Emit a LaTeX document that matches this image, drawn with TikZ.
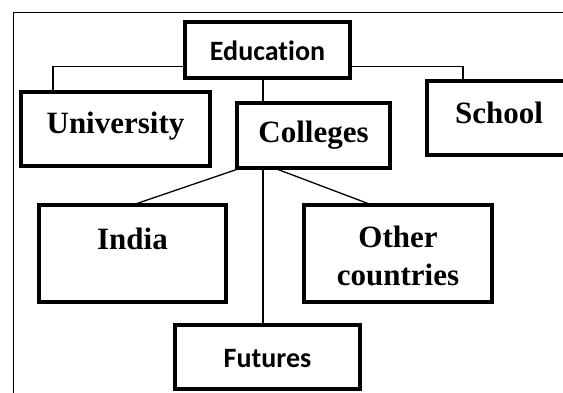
\documentclass[tikz,border=0pt]{standalone}
\usepackage{fontspec}
\setmainfont{Liberation Serif}
\newfontfamily\calfont[Ligatures=NoCommon]{Carlito}
\usepackage{tikz}
\usetikzlibrary{calc}

\tikzset{
  box/.style={draw, line width=4pt, inner sep=0pt, outer sep=0pt, align=center, anchor=north west},
  serif/.style={font=\bfseries\fontsize{31}{38}\selectfont},
  sans/.style={font=\calfont\bfseries\fontsize{28}{34}\selectfont},
  link/.style={line width=1.3pt}
}

\begin{document}
\begin{tikzpicture}[x=1pt,y=-1pt]
\useasboundingbox (0,0) rectangle (563,392);
\fill[white] (0,0) rectangle (563,392);
\draw[line width=0.9pt] (13,12) rectangle (640,460);

\node[box,sans,text width=165pt,text height=38.5pt,text depth=18pt] (edu) at (185,21.5) {Education};

\node[box,serif,text width=189pt,text height=41pt,text depth=33pt] (uni) at (21,92) {University};
\node[box,serif,text width=153pt,text height=39pt,text depth=26pt] (col) at (237,103) {Colleges};
\node[box,serif,text width=144pt,text height=42pt,text depth=32pt] (sch) at (427,81) {School};

\node[box,serif,text width=187pt,text height=44pt,text depth=53pt] (ind) at (39,205) {India};
\node[box,serif,text width=188pt,text height=42pt,text depth=55pt] (oth) at (304,205) {Other\\countries};

\node[box,sans,text width=185pt,text height=42pt,text depth=22pt] (fut) at (175,325) {Futures};

\coordinate (trunk) at (263,0);

\draw[link] ([yshift=-17pt]edu.west) -| ([xshift=32pt]uni.north west);
\draw[link] ([yshift=-17pt]edu.east) -| ([xshift=36pt]sch.north west);
\draw[link] (edu.south -| trunk) -- (col.north -| trunk);

\draw[link] (col.south -| trunk) -- (fut.north -| trunk);
\draw[link] ([xshift=4pt]col.south west) -- (ind.north);
\draw[link] ([xshift=37pt]col.south west) -- ([xshift=-26pt]oth.north);
\end{tikzpicture}
\end{document}
